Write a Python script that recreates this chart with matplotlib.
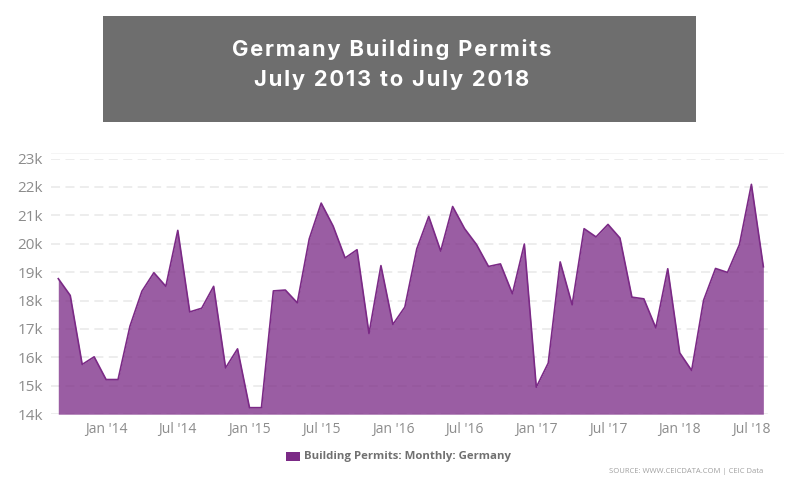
import matplotlib
matplotlib.use('Agg')
import matplotlib.pyplot as plt
from matplotlib.patches import Rectangle
from matplotlib.lines import Line2D

W, H = 800, 500

# Sep 2013 .. Aug 2018, monthly, in thousands
permits = [18.77, 18.18, 15.75, 16.02, 15.22, 15.22, 17.10, 18.33, 18.98, 18.50,
           20.47, 17.60, 17.73, 18.50, 15.63, 16.30, 14.23, 14.23, 18.34, 18.37,
           17.92, 20.17, 21.43, 20.62, 19.50, 19.79, 16.84, 19.23, 17.16, 17.77,
           19.82, 20.96, 19.74, 21.31, 20.53, 19.97, 19.20, 19.29, 18.24, 19.99,
           14.95, 15.80, 19.36, 17.85, 20.53, 20.24, 20.68, 20.20, 18.12, 18.06,
           17.04, 19.12, 16.16, 15.54, 18.01, 19.13, 18.99, 19.97, 22.09, 19.19]
months = list(range(len(permits)))
tick_months = [4, 10, 16, 22, 28, 34, 40, 46, 52, 58]
tick_labels = ["Jan '14", "Jul '14", "Jan '15", "Jul '15", "Jan '16",
               "Jul '16", "Jan '17", "Jul '17", "Jan '18", "Jul '18"]
y_ticks = [14, 15, 16, 17, 18, 19, 20, 21, 22, 23]
y_labels = ['14k', '15k', '16k', '17k', '18k', '19k', '20k', '21k', '22k', '23k']

PURPLE = '#7b2a86'
GREY = '#8c8c8c'

fig = plt.figure(figsize=(8, 5), dpi=100, facecolor='white')

# plot area in pixels: x 51-771, y 159-414.7
ax = fig.add_axes([51 / W, 1 - 414.2 / H, 720 / W, 255.7 / H])
ax.set_xlim(-0.61, 59.64)
ax.set_ylim(14, 23)
for s in ax.spines.values():
    s.set_visible(False)

ax.set_axisbelow(True)
ax.yaxis.grid(True, color='#ececec', linestyle=(0, (5, 3)), linewidth=1.3)
ax.fill_between(months, permits, 14, color=PURPLE, alpha=0.76, linewidth=0, zorder=2)
ax.plot(months, permits, color=PURPLE, linewidth=1.2, zorder=3)

ax.set_xticks(tick_months)
ax.set_xticklabels(tick_labels, family='Open Sans', fontsize=10, color=GREY)
ax.set_yticks(y_ticks)
ax.set_yticklabels(y_labels, family='Open Sans', fontsize=11, color=GREY)
ax.tick_params(axis='both', length=0)
ax.tick_params(axis='x', pad=5.5)
ax.tick_params(axis='y', pad=6)

# thin line above the plot area
fig.add_artist(Line2D([51 / W, 783 / W], [1 - 152.7 / H] * 2, color='#f5f5f5', linewidth=0.7))

# title box
fig.add_artist(Rectangle((103 / W, 1 - 122 / H), 593 / W, 106 / H, transform=fig.transFigure,
                         facecolor='#6e6e6e', edgecolor='none'))
# hair spaces stand in for the letter spacing of the original title
fig.text(391.5 / W, 1 - 50 / H, '\u200a'.join('Germany Building Permits'), color='white', fontsize=15.8,
         family=['Inter', 'DejaVu Sans'], fontweight='bold', ha='center', va='center')
fig.text(391.5 / W, 1 - 79.5 / H, '\u200a'.join('July 2013 to July 2018'), color='white', fontsize=15.8,
         family=['Inter', 'DejaVu Sans'], fontweight='bold', ha='center', va='center')

# legend
fig.add_artist(Rectangle((286 / W, 1 - 461 / H), 14 / W, 9 / H, transform=fig.transFigure,
                         facecolor=PURPLE, edgecolor='none'))
fig.text(304 / W, 1 - 456.5 / H, 'Building Permits: Monthly: Germany', color='#707070', fontsize=8.2,
         family='Open Sans', fontweight='bold', ha='left', va='center')

fig.text(763 / W, 1 - 471.5 / H, 'SOURCE: WWW.CEICDATA.COM | CEIC Data', color='#a0a0a0', fontsize=5.5,
         family='Open Sans', ha='right', va='center')

fig.savefig('out.png', dpi=100, facecolor='white')
